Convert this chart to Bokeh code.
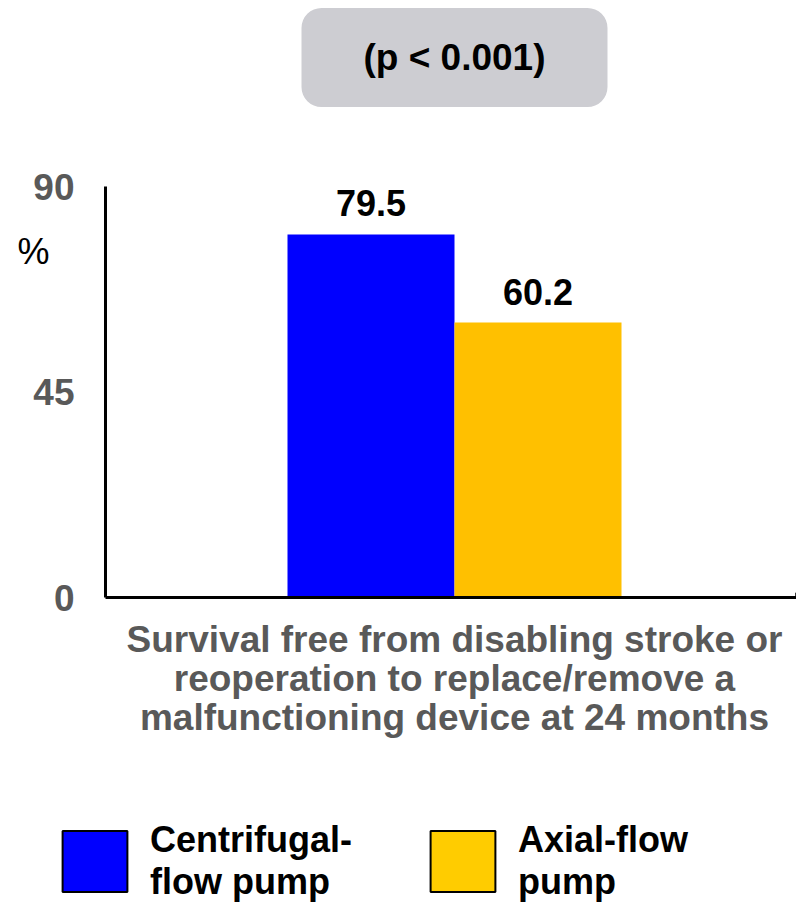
import numpy as np
from bokeh.plotting import figure
from bokeh.models import (Range1d, FixedTicker, ColumnDataSource,
                          LabelSet, Label, Legend, LegendItem)
from bokeh.core.properties import value
from bokeh.embed import file_html
from bokeh.resources import INLINE

# ---- data ----
category = "Survival free from disabling stroke or\nreoperation to replace/remove a\nmalfunctioning device at 24 months"
series = ["Centrifugal-\nflow pump", "Axial-flow\npump"]
values = [79.5, 60.2]
value_labels = ["79.5", "60.2"]
bar_colors = ["#0000FF", "#FFC000"]
legend_colors = ["#0000FF", "#FFCC00"]
y_ticks = [0, 45, 90]
p_text = "(p < 0.001)"
y_unit = "%"

FONT = "Liberation Sans"
GRAY = "#595959"

W, H = 796, 906
# bars at integer positions, width 1 (167 px); frame covers the whole canvas
px_x = 167.0
blue_center_px = 370.5
x0 = -blue_center_px / px_x
x1 = (W - blue_center_px) / px_x
axis_x = (105 - blue_center_px) / px_x
zero_px = 597.0
px_y = (597.0 - 186.0) / 90.0
y1 = zero_px / px_y
y0 = -(H - zero_px) / px_y

p = figure(width=W, height=H, output_backend="svg", toolbar_location=None,
           x_range=Range1d(x0, x1), y_range=Range1d(y0, y1),
           min_border=0, min_border_left=0, min_border_right=0,
           min_border_top=0, min_border_bottom=0)
p.outline_line_color = None
p.xgrid.grid_line_color = None
p.ygrid.grid_line_color = None

xs = np.arange(len(series), dtype=float)
group_center = float(xs.mean())
src = ColumnDataSource(dict(x=xs, top=values, color=bar_colors, lab=value_labels))
p.vbar(x="x", top="top", width=1.0, source=src, fill_color="color", line_color=None)
p.add_layout(LabelSet(x="x", y="top", text="lab", source=src,
                      text_align="center", text_baseline="alphabetic", y_offset=18,
                      text_font=value(FONT), text_font_style="bold",
                      text_font_size="36px", text_color="black"))

# legend proxies (outlined swatches), kept outside the visible x range
legend_items = []
proxy_x = x1 + 10
for name, lcol in zip(series, legend_colors):
    dummy = p.vbar(x=[proxy_x], top=[1.0], width=1.0, fill_color=lcol,
                   line_color="black", line_width=2)
    legend_items.append(LegendItem(label=name, renderers=[dummy]))

legend = Legend(items=legend_items, orientation="horizontal", location=(54, 3),
                glyph_width=81, glyph_height=76, label_standoff=15, spacing=70,
                padding=0, margin=0, border_line_color=None, background_fill_alpha=0,
                label_text_font=FONT, label_text_font_style="bold", label_text_font_size="36px",
                label_text_color="black")
p.add_layout(legend)

# axes (fixed inside the frame)
p.yaxis.fixed_location = axis_x
p.xaxis.fixed_location = 0
p.yaxis.bounds = (y_ticks[0], y_ticks[-1])
p.xaxis.bounds = (axis_x, x1)
p.yaxis.ticker = FixedTicker(ticks=y_ticks)
p.xaxis.ticker = FixedTicker(ticks=[group_center])
p.xaxis.major_label_overrides = {group_center: category}
for ax in (p.xaxis[0], p.yaxis[0]):
    ax.axis_line_color = "black"
    ax.axis_line_width = 3
    ax.major_tick_line_color = None
    ax.minor_tick_line_color = None
    ax.major_tick_out = 0
    ax.major_tick_in = 0
    ax.minor_tick_out = 0
    ax.major_label_text_font = FONT
    ax.major_label_text_font_style = "bold"
    ax.major_label_text_color = GRAY
p.yaxis.major_label_text_font_size = "37px"
p.yaxis.major_label_standoff = 31
p.xaxis.major_label_text_font_size = "37px"
p.xaxis.major_label_text_line_height = 0.96
p.xaxis.major_label_standoff = 21

# % label
p.add_layout(Label(x=(17 - blue_center_px) / px_x, y=(zero_px - 251) / px_y, text=y_unit,
                   text_align="left", text_baseline="middle", text_font=FONT,
                   text_font_size="36px", text_color="black"))

# p-value box
p.add_layout(Label(x=group_center, y=(zero_px - 57) / px_y, text=p_text,
                   text_align="center", text_baseline="middle", text_font=FONT,
                   text_font_style="bold", text_font_size="37px", text_color="black",
                   background_fill_color="#CDCDD2", border_radius=20,
                   padding=dict(left=62, right=62, top=29, bottom=29)))

open("out.html", "w").write(file_html(p, INLINE))
